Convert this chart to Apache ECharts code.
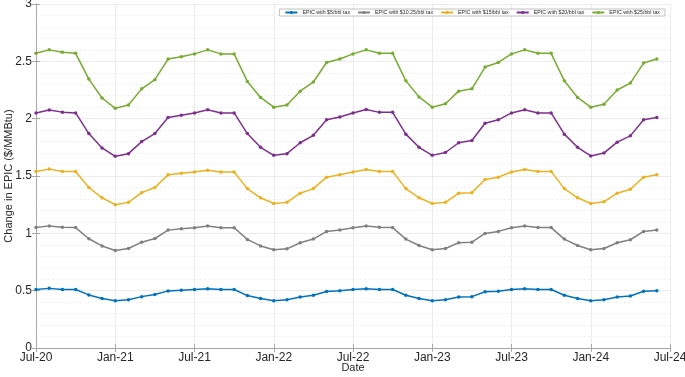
<!DOCTYPE html>
<html><head><meta charset="utf-8">
<script src="https://cdn.jsdelivr.net/npm/echarts@6/dist/echarts.min.js"></script>
<style>html,body{margin:0;padding:0;background:#fff}#c{width:685px;height:377px}</style>
</head><body><div id="c"></div>
<script>
// Months Jul-2020 .. Jun-2024 (index 0 = Jul-20)
const months = ["2020-07","2020-08","2020-09","2020-10","2020-11","2020-12","2021-01","2021-02","2021-03","2021-04","2021-05","2021-06",
"2021-07","2021-08","2021-09","2021-10","2021-11","2021-12","2022-01","2022-02","2022-03","2022-04","2022-05","2022-06",
"2022-07","2022-08","2022-09","2022-10","2022-11","2022-12","2023-01","2023-02","2023-03","2023-04","2023-05","2023-06",
"2023-07","2023-08","2023-09","2023-10","2023-11","2023-12","2024-01","2024-02","2024-03","2024-04","2024-05","2024-06"];
const tickLabels = ["Jul-20","Jan-21","Jul-21","Jan-22","Jul-22","Jan-23","Jul-23","Jan-24","Jul-24"];
const seriesNames = ["EPIC with $5/bbl tax","EPIC with $10.25/bbl tax","EPIC with $15/bbl tax","EPIC with $20/bbl tax","EPIC with $25/bbl tax"];
const tax5 = [0.51,0.52,0.51,0.51,0.463,0.431,0.413,0.42,0.448,0.466,0.498,0.504,
0.51,0.516,0.51,0.51,0.457,0.431,0.413,0.42,0.445,0.46,0.492,0.5,
0.51,0.516,0.51,0.51,0.46,0.431,0.413,0.42,0.445,0.448,0.49,0.495,
0.51,0.516,0.51,0.51,0.46,0.431,0.413,0.42,0.445,0.453,0.495,0.5];
const tax1025 = [1.05,1.065,1.054,1.05,0.953,0.89,0.85,0.868,0.923,0.955,1.028,1.04,
1.049,1.063,1.049,1.049,0.947,0.89,0.857,0.865,0.918,0.95,1.017,1.03,
1.049,1.063,1.054,1.05,0.95,0.894,0.857,0.868,0.918,0.923,0.999,1.017,
1.049,1.063,1.05,1.05,0.95,0.894,0.857,0.868,0.918,0.944,1.017,1.029];
const tax15 = [1.54,1.56,1.54,1.54,1.40,1.31,1.25,1.27,1.355,1.40,1.51,1.525,
1.535,1.55,1.535,1.535,1.39,1.31,1.26,1.27,1.35,1.39,1.49,1.51,
1.535,1.556,1.54,1.54,1.39,1.31,1.26,1.27,1.35,1.355,1.47,1.49,
1.535,1.556,1.54,1.54,1.39,1.31,1.26,1.275,1.35,1.385,1.49,1.51];
const tax20 = [2.05,2.075,2.057,2.05,1.87,1.745,1.672,1.695,1.80,1.87,2.01,2.03,
2.05,2.077,2.05,2.05,1.87,1.75,1.68,1.695,1.79,1.855,1.99,2.015,
2.05,2.08,2.055,2.055,1.865,1.75,1.68,1.705,1.79,1.81,1.96,1.99,
2.05,2.077,2.05,2.05,1.865,1.75,1.675,1.70,1.795,1.85,1.99,2.01];
const tax25 = [2.57,2.60,2.58,2.57,2.345,2.18,2.09,2.12,2.26,2.34,2.52,2.54,
2.565,2.60,2.565,2.565,2.325,2.185,2.10,2.12,2.24,2.32,2.49,2.52,
2.565,2.60,2.57,2.57,2.33,2.19,2.10,2.13,2.24,2.26,2.45,2.49,
2.565,2.60,2.57,2.57,2.33,2.185,2.10,2.125,2.25,2.31,2.485,2.52];
const allValues = [tax5, tax1025, tax15, tax20, tax25];
const colors = ["#0072BD","#808080","#EDB120","#7E2F8E","#77AC30"];

const chart = echarts.init(document.getElementById('c'), null, {renderer:'canvas'});
const font = 'Liberation Sans, Arial, Helvetica, sans-serif';
const axisGrey = '#a8a8a8';
const series = allValues.map((vals, k) => ({
  name: seriesNames[k], type: 'line',
  data: vals.map((v, i) => [i, v]),
  xAxisIndex: 0, yAxisIndex: 0,
  symbol: 'circle', symbolSize: 3.5, showSymbol: true,
  lineStyle: {color: colors[k], width: 1.5},
  itemStyle: {color: colors[k]},
  emphasis: {disabled: true}, animation: false
}));
chart.setOption({
  animation: false,
  grid: {left: 36, right: 15, top: 4, bottom: 29, containLabel: false, outerBoundsMode: 'none'},
  legend: {
    right: 20, top: 9, orient: 'horizontal',
    data: seriesNames,
    itemWidth: 12, itemHeight: 4, itemGap: 7,
    padding: [1, 5, 1, 5],
    backgroundColor: '#fff', borderColor: '#b0b0b0', borderWidth: 0.8, borderRadius: 0,
    textStyle: {fontSize: 5.3, color: '#262626', fontFamily: font}
  },
  xAxis: [{
    type: 'value', min: 0, max: 48, interval: 6,
    name: 'Date', nameLocation: 'middle', nameGap: 14, nameMoveOverlap: false,
    nameTextStyle: {fontSize: 11, color: '#262626', fontFamily: font},
    axisLine: {show: true, lineStyle: {color: axisGrey, width: 1}},
    axisTick: {show: true, inside: true, length: 4, lineStyle: {color: axisGrey}},
    axisLabel: {fontSize: 12, color: '#262626', fontFamily: font, margin: 4,
      formatter: v => tickLabels[Math.round(v / 6)] || ''},
    splitLine: {show: true, lineStyle: {color: '#e6e6e6', width: 0.8}}
  }, {
    type: 'value', min: 0, max: 48, interval: 6, position: 'top',
    axisLine: {show: true, lineStyle: {color: axisGrey, width: 1}},
    axisTick: {show: true, inside: true, length: 4, lineStyle: {color: axisGrey}},
    axisLabel: {show: false}, splitLine: {show: false}
  }],
  yAxis: [{
    type: 'value', min: 0, max: 3, interval: 0.5,
    name: 'Change in EPIC ($/MMBtu)', nameLocation: 'middle', nameGap: 22, nameMoveOverlap: false,
    nameTextStyle: {fontSize: 11, color: '#262626', fontFamily: font},
    axisLine: {show: true, lineStyle: {color: axisGrey, width: 1}},
    axisTick: {show: true, inside: true, length: 4, lineStyle: {color: axisGrey}},
    axisLabel: {fontSize: 12, color: '#262626', fontFamily: font, margin: 4},
    splitLine: {show: true, lineStyle: {color: '#e6e6e6', width: 0.8}},
    minorTick: {show: false, splitNumber: 5},
    minorSplitLine: {show: true, lineStyle: {color: '#ededed', width: 0.8, type: [2, 2]}}
  }, {
    type: 'value', min: 0, max: 3, interval: 0.5, position: 'right',
    axisLine: {show: true, lineStyle: {color: axisGrey, width: 1}},
    axisTick: {show: true, inside: true, length: 4, lineStyle: {color: axisGrey}},
    axisLabel: {show: false}, splitLine: {show: false}
  }],
  series: series
});
</script></body></html>
